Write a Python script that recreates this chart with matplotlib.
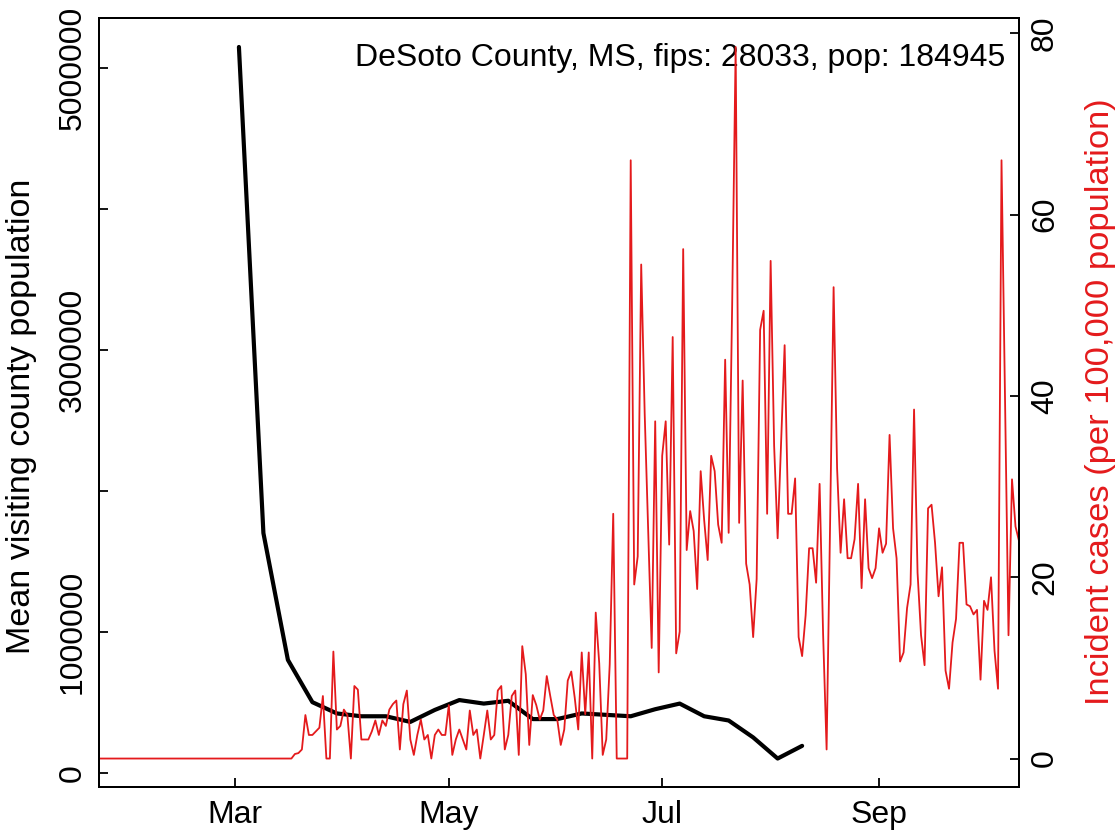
import matplotlib
matplotlib.use("Agg")
import matplotlib.pyplot as plt
import pandas as pd

plt.rcParams['font.family'] = ['Liberation Sans', 'DejaVu Sans']

titulo = "DeSoto County, MS, fips: 28033, pop: 184945"
rotulo_esq = "Mean visiting county population"
rotulo_dir = "Incident cases (per 100,000 population)"
vermelho = "#E41A1C"

# media semanal da populacao visitante (a partir de 2 de marco)
inicio_visitas = "2020-03-02"
visitas = [5150000, 1700000, 800000, 500000, 420000, 400000, 400000, 360000,
           445000, 515000, 490000, 510000, 380000, 380000, 420000, 410000,
           400000, 450000, 490000, 400000, 370000, 250000, 100000, 190000]

# casos diarios por 100 mil habitantes (a partir de 22 de janeiro)
inicio_casos = "2020-01-22"
casos = [0, 0, 0, 0, 0, 0, 0, 0, 0, 0, 0, 0, 0, 0,
         0, 0, 0, 0, 0, 0, 0, 0, 0, 0, 0, 0, 0, 0,
         0, 0, 0, 0, 0, 0, 0, 0, 0, 0, 0, 0, 0, 0,
         0, 0, 0, 0, 0, 0, 0, 0, 0, 0, 0, 0, 0, 0,
         0.5, 0.6, 1.0, 4.8, 2.6, 2.6, 3.0, 3.4, 6.9, 0, 0, 11.8, 3.2, 3.6,
         5.4, 4.8, 0, 8.0, 7.6, 2.1, 2.1, 2.1, 3.0, 4.2, 2.6, 4.2, 3.6, 5.4,
         6.0, 6.4, 1.0, 6.0, 7.5, 2.1, 0.4, 2.6, 4.3, 2.1, 2.6, 0, 2.6, 3.2,
         2.6, 2.6, 5.9, 0.4, 2.1, 3.2, 2.1, 1.0, 5.3, 2.6, 3.2, 0, 2.6, 5.3,
         2.1, 2.6, 7.5, 8.0, 1.0, 2.6, 6.9, 7.5, 0.4, 12.4, 9.3, 1.5, 7.0, 5.9,
         4.3, 5.3, 9.1, 6.9, 4.8, 4.3, 1.5, 3.2, 8.6, 9.6, 6.7, 3.2, 11.7, 4.9,
         11.7, 0, 16.1, 10.5, 0.4, 2.1, 10.4, 27.0, 0, 0, 0, 0, 66, 19.2,
         22.3, 54.5, 38, 25, 12.2, 37.2, 9.5, 33.4, 37.2, 23.6, 46.5, 11.6, 14.0, 56.2,
         23.0, 27.3, 25.1, 18.7, 31.7, 26.3, 21.9, 33.4, 31.7, 25.8, 23.8, 44, 24.9, 50,
         78.5, 26, 41.7, 21.5, 19.2, 13.4, 19.8, 47.3, 49.4, 27, 54.9, 34.5, 24.3, 35,
         45.6, 27, 27, 30.9, 13.4, 11.3, 15.8, 23.2, 23.2, 19.4, 30.3, 13.7, 1.0, 26,
         52, 32, 22.7, 28.6, 22.1, 22.1, 24.2, 30.3, 18.8, 28.6, 21, 19.9, 21, 25.4,
         22.7, 23.7, 35.7, 25.4, 22.1, 10.7, 11.7, 16.6, 19.2, 38.5, 20.5, 13.6, 10.3, 27.6,
         28.0, 23.8, 17.9, 21.1, 9.7, 7.7, 12.8, 15.4, 23.8, 23.8, 17.0, 16.8, 15.9, 16.4,
         8.7, 17.4, 16.4, 20.0, 11.9, 7.7, 66, 40, 13.6, 30.8, 25.6, 24]

meses = ["2020-03-01", "2020-05-01", "2020-07-01", "2020-09-01"]
nomes_meses = ["Mar", "May", "Jul", "Sep"]
ticks_esq = [0, 1000000, 2000000, 3000000, 4000000, 5000000]
rotulos_esq = ["0", "1000000", "", "3000000", "", "5000000"]
ticks_dir = [0, 20, 40, 60, 80]

datas_visitas = pd.date_range(inicio_visitas, periods=len(visitas), freq="7D")
datas_casos = pd.date_range(inicio_casos, periods=len(casos), freq="D")

fig = plt.figure(figsize=(11.19, 8.3), dpi=100)
ax = fig.add_axes([99 / 1119, 43 / 830, 920 / 1119, 768.5 / 830])

ax.plot(datas_visitas, visitas, color="black", lw=3.0,
        solid_capstyle="round", solid_joinstyle="round")
ax.set_ylim(-102000, 5352000)
ax.set_xlim(datas_casos[0], datas_casos[-1])
ax.set_yticks(ticks_esq)
ax.set_yticklabels(rotulos_esq)
ax.set_xticks(pd.to_datetime(meses))
ax.set_xticklabels(nomes_meses)
ax.tick_params(axis="y", direction="in", length=6.5, width=1.3,
               labelsize=23, labelrotation=90, pad=8)
ax.tick_params(axis="x", direction="in", length=6.5, width=1.3,
               labelsize=23, pad=9)
for lbl in ax.get_yticklabels():
    lbl.set_va("center")
for s in ax.spines.values():
    s.set_linewidth(1.4)

ax.text(0.985, 0.9486, titulo, transform=ax.transAxes, ha="right",
        va="center", fontsize=23)

ax2 = ax.twinx()
ax2.plot(datas_casos, casos, color=vermelho, lw=1.3)
ax2.set_ylim(-3.14, 81.64)
ax2.set_yticks(ticks_dir)
ax2.tick_params(axis="y", direction="in", length=6.5, width=1.3,
                labelsize=23, labelrotation=90, pad=8)
for lbl in ax2.get_yticklabels():
    lbl.set_va("center")
for s in ax2.spines.values():
    s.set_linewidth(1.4)

fig.text(22 / 1119, (830 - 416) / 830, rotulo_esq, rotation=90,
         ha="center", va="center", fontsize=24.6)
fig.text(1100 / 1119, (830 - 402) / 830, rotulo_dir, rotation=90,
         ha="center", va="center", fontsize=24.8, color=vermelho)

fig.savefig("out.png", dpi=100)
